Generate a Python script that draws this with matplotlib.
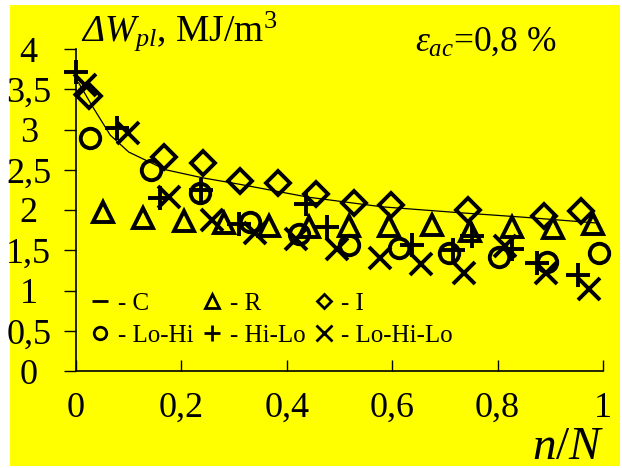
import matplotlib
matplotlib.use("Agg")
import matplotlib.pyplot as plt
from matplotlib.lines import Line2D
from matplotlib.patches import Rectangle

plt.rcParams['font.family'] = ['Liberation Serif', 'DejaVu Serif']
plt.rcParams['mathtext.fontset'] = 'custom'
plt.rcParams['mathtext.rm'] = 'Liberation Serif'
plt.rcParams['mathtext.it'] = 'Liberation Serif:italic'
# bf slot used for an italic capital Delta (mathtext forces Greek capitals upright in 'it')
plt.rcParams['mathtext.bf'] = 'Liberation Serif:italic'

# C - fitted curve
c_x = [0.005, 0.03, 0.065, 0.1, 0.17, 0.24, 0.31, 0.44, 0.58, 0.72, 0.85, 0.985]
c_y = [3.58, 3.3, 2.93, 2.72, 2.5, 2.4, 2.32, 2.16, 2.04, 1.97, 1.91, 1.84]

# R
r_x = [0.051, 0.127, 0.205, 0.281, 0.366, 0.442, 0.518, 0.594, 0.676, 0.748, 0.827, 0.905, 0.981]
r_y = [1.98, 1.9, 1.86, 1.84, 1.8, 1.79, 1.8, 1.8, 1.81, 1.74, 1.79, 1.78, 1.83]

# I
i_x = [0.024, 0.167, 0.241, 0.311, 0.383, 0.455, 0.528, 0.598, 0.744, 0.888, 0.958]
i_y = [3.42, 2.66, 2.58, 2.36, 2.33, 2.2, 2.09, 2.06, 2.0, 1.93, 1.99]

# Lo-Hi
lohi_x = [0.027, 0.142, 0.235, 0.33, 0.423, 0.518, 0.613, 0.708, 0.803, 0.894, 0.992]
lohi_y = [2.9, 2.5, 2.21, 1.85, 1.7, 1.57, 1.53, 1.47, 1.41, 1.36, 1.47]

# Hi-Lo
hilo_x = [0.0, 0.078, 0.159, 0.237, 0.309, 0.437, 0.476, 0.638, 0.715, 0.751, 0.827, 0.875, 0.953]
hilo_y = [3.71, 3.02, 2.15, 2.25, 1.82, 2.07, 1.79, 1.57, 1.5, 1.68, 1.52, 1.34, 1.19]

# Lo-Hi-Lo
lohilo_x = [0.017, 0.099, 0.176, 0.258, 0.34, 0.417, 0.495, 0.577, 0.655, 0.736, 0.814, 0.892, 0.973]
lohilo_y = [3.55, 2.96, 2.16, 1.87, 1.71, 1.64, 1.52, 1.4, 1.33, 1.22, 1.55, 1.22, 1.02]

yticks = [0, 0.5, 1, 1.5, 2, 2.5, 3, 3.5, 4]
ytick_labels = ['0', '0,5', '1', '1,5', '2', '2,5', '3', '3,5', '4']
xticks = [0, 0.2, 0.4, 0.6, 0.8, 1]
xtick_labels = ['0', '0,2', '0,4', '0,6', '0,8', '1']

fig = plt.figure(figsize=(6.22, 4.68), dpi=100)
fig.patch.set_facecolor('white')
fig.patches.append(Rectangle((10 / 622, 2 / 468), 610 / 622, 461 / 468,
                             transform=fig.transFigure, facecolor='#ffff00',
                             edgecolor='none', zorder=-10))

ax = fig.add_axes([76 / 622, 1 - 371 / 468, 527 / 622, 322 / 468])
ax.set_facecolor('none')

mk = dict(ls='none', mfc='none', mec='black', mew=2.8, clip_on=False)
ax.plot(c_x, c_y, color='black', lw=0.9)
ax.plot(r_x, r_y, marker='^', ms=15, **mk)
ax.plot(i_x, i_y, marker='D', ms=12, **mk)
ax.plot(lohi_x, lohi_y, marker='o', ms=14, **mk)
ax.plot(hilo_x, hilo_y, marker='+', ms=17, **mk)
ax.plot(lohilo_x, lohilo_y, marker='x', ms=16, **mk)

ax.set_xlim(0, 1)
ax.set_ylim(0, 4)
ax.set_xticks(xticks)
ax.set_xticklabels(xtick_labels)
ax.set_yticks(yticks)
ax.set_yticklabels(ytick_labels, ha='center')
ax.tick_params(axis='x', direction='in', length=8, width=1, labelsize=26, pad=15)
ax.tick_params(axis='y', direction='out', length=9, width=1, labelsize=26, pad=25)
for s in ['top', 'right']:
    ax.spines[s].set_visible(False)
for s in ['left', 'bottom']:
    ax.spines[s].set_linewidth(1.2)

lk = dict(ls='none', mfc='none', mec='black', mew=2.0)
handles = [
    Line2D([], [], marker='_', ms=11, **lk),
    Line2D([], [], marker='o', ms=9, **lk),
    Line2D([], [], marker='^', ms=10, **lk),
    Line2D([], [], marker='+', ms=12, **lk),
    Line2D([], [], marker='D', ms=7.5, **lk),
    Line2D([], [], marker='x', ms=11, **lk),
]
labels = ['- C', '- Lo-Hi', '- R', '- Hi-Lo', '- I', '- Lo-Hi-Lo']
ax.legend(handles, labels, ncol=3, loc='upper left', bbox_to_anchor=(0.027, 0.245),
          frameon=False, fontsize=18, handlelength=0.8, handletextpad=0.3,
          columnspacing=0.35, borderaxespad=0, borderpad=0, labelspacing=0.38)

fig.text(81 / 622, 1 - 41 / 468, r'$\mathbf{\Delta}W_{pl}$, MJ/m$^3$', fontsize=27,
         va='baseline', ha='left')
fig.text(415 / 622, 1 - 51 / 468, r'$\varepsilon_{ac}$=0,8 %', fontsize=25.5,
         va='baseline', ha='left')
fig.text(604 / 622, 1 - 459 / 468, r'$n$/$N$', fontsize=34, va='baseline', ha='right')

fig.savefig('out.png', dpi=100)
